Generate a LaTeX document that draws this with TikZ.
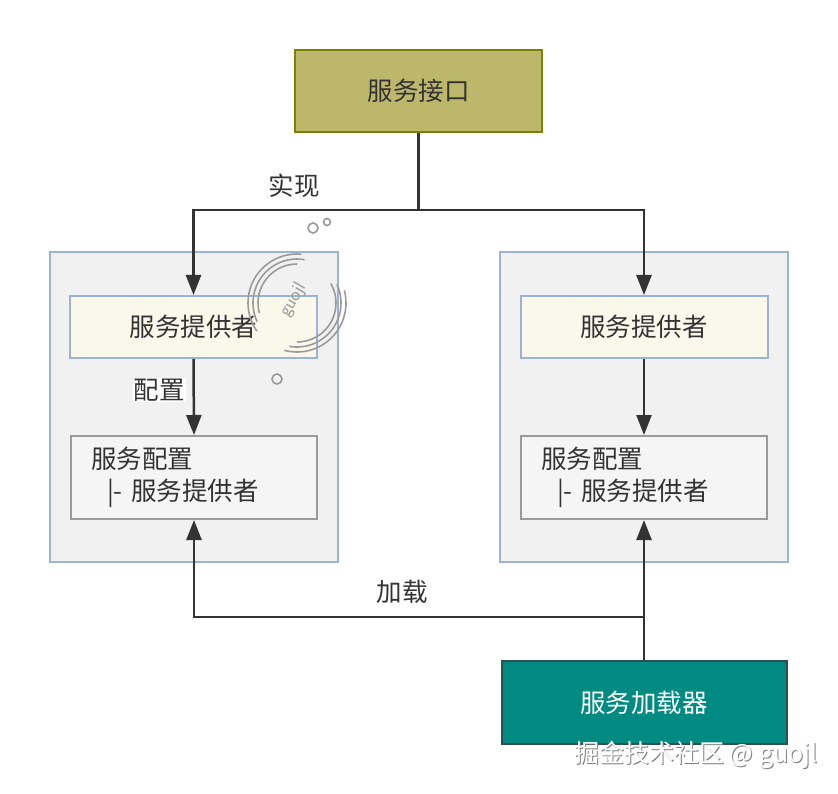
\documentclass[tikz,border=0pt]{standalone}
\usepackage{fontspec}
\setmainfont{Noto Sans CJK SC}
\usetikzlibrary{arrows.meta}
\definecolor{olivefill}{HTML}{BDB76B}
\definecolor{olivedraw}{HTML}{808000}
\definecolor{contfill}{HTML}{F1F1F1}
\definecolor{bluedraw}{HTML}{9DB3D6}
\definecolor{provfill}{HTML}{FAF8EB}
\definecolor{cfgfill}{HTML}{F5F5F5}
\definecolor{cfgdraw}{HTML}{9A9A9A}
\definecolor{tealfill}{HTML}{008B82}
\definecolor{tealdraw}{HTML}{2F4F4F}
\definecolor{linec}{HTML}{333333}
\definecolor{wmgray}{HTML}{9A9A9A}
\tikzset{
  container/.style={draw=bluedraw, fill=contfill, line width=2pt, minimum width=288pt, minimum height=310pt, inner sep=0pt},
  provider/.style={draw=bluedraw, fill=provfill, line width=2pt, minimum width=247pt, minimum height=62pt, inner sep=0pt, font=\fontsize{25.5}{28}\selectfont, text=linec},
  cfgbox/.style={draw=cfgdraw, fill=cfgfill, line width=2pt, minimum width=246pt, minimum height=83pt, inner xsep=20pt, inner ysep=0pt, text width=206pt, align=left, font=\fontsize{25.5}{32}\selectfont, text=linec},
  arr/.style={draw=linec, line width=2.5pt, -{Triangle[length=20pt,width=15pt]}},
  plain/.style={draw=linec, line width=2.5pt},
  lbl/.style={font=\fontsize{25.5}{28}\selectfont, text=linec, inner sep=1pt},
}
\begin{document}
\begin{tikzpicture}[x=1pt,y=-1pt]
\useasboundingbox (0,0) rectangle (838,794);
\fill[white] (0,0) rectangle (838,794);
% top interface
\node[draw=olivedraw, fill=olivefill, line width=2pt, minimum width=247pt, minimum height=82pt, font=\fontsize{25.5}{28}\selectfont, text=linec] (iface) at (418.5,91) {服务接口};
% containers
\node[container] (lcont) at (194,407) {};
\node[container] (rcont) at (644,407) {};
% providers
\node[provider] (lprov) at (193.5,327) {服务提供者};
\node[provider] (rprov) at (644,327) {服务提供者};
% configs
\node[cfgbox] (lcfg) at (194,477.5) {服务配置\\\hspace*{16pt}|- 服务提供者};
\node[cfgbox] (rcfg) at (644,477.5) {服务配置\\\hspace*{16pt}|- 服务提供者};
% loader
\node[draw=tealdraw, fill=tealfill, line width=2pt, minimum width=285pt, minimum height=83pt, font=\fontsize{25.5}{28}\selectfont, text=white] (loader) at (644,702.5) {服务加载器};
% connectors
\coordinate (split) at (418.5,210);
\draw[plain] (iface.south) -- (split);
\draw[arr] (split) -| (lprov.north);
\draw[arr] (split) -| (rprov.north);
\node[lbl] (impl) at (294,186) {实现};
\draw[arr] (lprov.south) -- (lcfg.north);
\draw[arr] (rprov.south) -- (rcfg.north);
\node[lbl, fill=white] (cfglbl) at (159,390) {配置};
\coordinate (ld) at (644,617);
\draw[arr] (loader.north) -- (rcfg.south);
\draw[arr] (ld) -| (lcfg.south);
\node[lbl] (loadlbl) at (402,592) {加载};
% watermark stamp
\begin{scope}[wmgray, line width=1.6pt]
  \draw (297,303) ++(-80:44) arc[start angle=-80, end angle=-205, radius=44];
  \draw (297,303) ++(-85:49) arc[start angle=-85, end angle=-215, radius=49];
  \draw (297,303) ++(-90:39) arc[start angle=-90, end angle=-195, radius=39];
  \draw (297,303) ++(-25:44) arc[start angle=-25, end angle=100, radius=44];
  \draw (297,303) ++(-15:49) arc[start angle=-15, end angle=105, radius=49];
  \draw (297,303) ++(-30:39) arc[start angle=-30, end angle=90, radius=39];
  \draw (313,228) circle[radius=5];
  \draw (327,222) circle[radius=3.5];
  \draw (277,379) circle[radius=5];
\end{scope}
\node[text=wmgray, font=\fontsize{19}{22}\selectfont\sffamily, rotate=60] (wmtext) at (293,300) {guojl};
% bottom-right watermark
\node[text=gray, font=\fontsize{25}{28}\selectfont] (wm2s) at (697,756) {掘金技术社区 @ guojl};
\node[text=white, font=\fontsize{25}{28}\selectfont] (wm2) at (696,755) {掘金技术社区 @ guojl};
\end{tikzpicture}
\end{document}
